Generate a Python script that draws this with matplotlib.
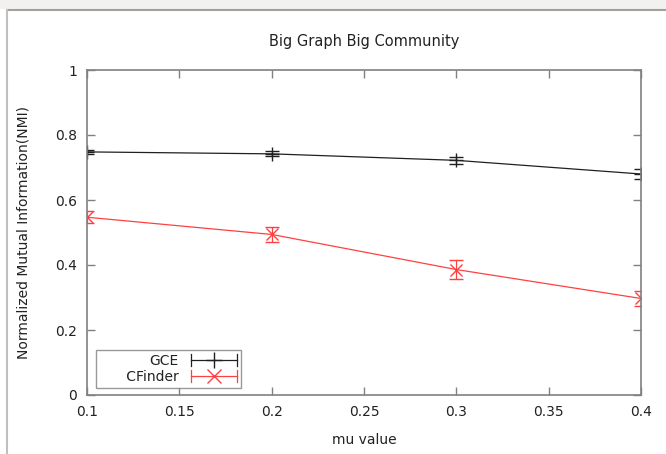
import matplotlib
matplotlib.use("Agg")
import matplotlib.pyplot as plt
from matplotlib.patches import Rectangle
from matplotlib.lines import Line2D
from matplotlib.legend_handler import HandlerBase

mu = [0.1, 0.2, 0.3, 0.4]
gce = [0.748, 0.742, 0.722, 0.680]
gce_err = [0.005, 0.008, 0.010, 0.014]
cfinder = [0.547, 0.494, 0.386, 0.297]
cfinder_err = [0.019, 0.023, 0.028, 0.023]
xticks = [0.1, 0.15, 0.2, 0.25, 0.3, 0.35, 0.4]
xticklabels = ["0.1", "0.15", "0.2", "0.25", "0.3", "0.35", "0.4"]
yticks = [0, 0.2, 0.4, 0.6, 0.8, 1.0]
yticklabels = ["0", "0.2", "0.4", "0.6", "0.8", "1"]
labels = ["GCE", "CFinder"]

plt.rcParams['font.family'] = ['DejaVu Sans']
fig = plt.figure(figsize=(6.66, 4.54), dpi=100)
fig.patch.set_facecolor('white')

# screenshot frame
fig.add_artist(Rectangle((0, 1 - 9/454), 1, 9/454, transform=fig.transFigure,
                         facecolor='#f2f1ef', edgecolor='none'))
fig.add_artist(Line2D([7/666, 1], [1 - 10/454, 1 - 10/454], transform=fig.transFigure,
                      color='#a0a0a0', lw=1.5))
fig.add_artist(Line2D([7/666, 7/666], [0, 1 - 10/454], transform=fig.transFigure,
                      color='#c0c0c0', lw=1.5))

ax = fig.add_axes([87/666, 59/454, 554/666, 325/454])
gray = '#808080'
red = '#ff4040'
dark = '#202020'
ax.errorbar(mu, gce, yerr=gce_err, color=dark, lw=0.9, marker='+', ms=10,
            mew=1.0, capsize=5, elinewidth=0.9, capthick=0.9)
ax.errorbar(mu, cfinder, yerr=cfinder_err, color=red, lw=0.9, marker='x', ms=9,
            mew=1.0, capsize=5, elinewidth=0.9, capthick=0.9)

ax.set_xlim(0.1, 0.4)
ax.set_ylim(0, 1)
ax.set_xticks(xticks)
ax.set_xticklabels(xticklabels)
ax.set_yticks(yticks)
ax.set_yticklabels(yticklabels)
for s in ax.spines.values():
    s.set_color(gray)
    s.set_linewidth(1.2)
ax.tick_params(direction='in', length=6, width=1, color=gray, top=True, right=True,
               labelsize=10, labelcolor='#222222', pad=7)
ax.set_title("Big Graph Big Community", fontsize=10.5, pad=17, color='#222222')
ax.set_xlabel("mu value", fontsize=10, labelpad=10, color='#222222')
ax.set_ylabel("Normalized Mutual Information(NMI)", fontsize=10, labelpad=18, color='#222222')


class HErrHandler(HandlerBase):
    def create_artists(self, legend, orig_handle, xdescent, ydescent, width, height,
                       fontsize, trans):
        c = orig_handle.get_color()
        m = orig_handle.get_marker()
        y = height / 2 - ydescent
        x0 = -xdescent
        x1 = x0 + width
        cap = 4.5
        arts = [
            Line2D([x0, x1], [y, y], color=c, lw=0.9),
            Line2D([x0, x0], [y - cap, y + cap], color=c, lw=0.9),
            Line2D([x1, x1], [y - cap, y + cap], color=c, lw=0.9),
            Line2D([(x0 + x1) / 2], [y], color=c, marker=m, ms=11 if m == '+' else 10,
                   mew=1.0, linestyle='none'),
        ]
        for a in arts:
            a.set_transform(trans)
        return arts


proxies = [Line2D([], [], color=dark, marker='+'),
           Line2D([], [], color=red, marker='x')]
pad_labels = [labels[0], "      " + labels[1]]
h = HErrHandler()
leg = ax.legend(proxies, pad_labels, handler_map={p: h for p in proxies},
                loc='lower left', bbox_to_anchor=(9/554, 7/325), markerfirst=False,
                fontsize=10, frameon=True, fancybox=False, handlelength=3.3,
                borderpad=0.3, labelspacing=0.15, handletextpad=0.9, borderaxespad=0)
leg.get_frame().set_edgecolor(gray)
leg.get_frame().set_linewidth(1.0)
for t in leg.get_texts():
    t.set_color('#222222')

fig.savefig("out.png", dpi=100)
